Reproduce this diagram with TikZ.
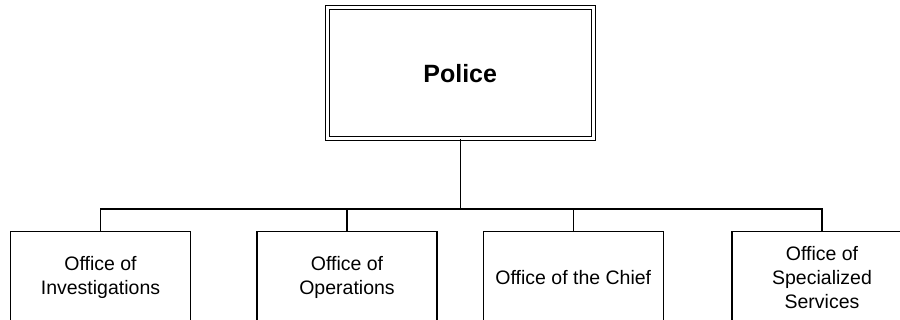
\documentclass[tikz,border=0pt]{standalone}
\usepackage{fontspec}
\setmainfont{Liberation Sans}
\usetikzlibrary{positioning}

\begin{document}
\begin{tikzpicture}[x=1pt, y=-1pt,
    topbox/.style={draw, double, double distance=2.6pt, line width=1.2pt,
      minimum width=266pt, minimum height=131pt, inner sep=0pt,
      font=\fontsize{25}{30}\selectfont\bfseries},
    officebox/.style={draw, line width=1.2pt, minimum width=180pt,
      minimum height=91pt, inner sep=0pt, align=center,
      font=\fontsize{19.5}{24}\selectfont},
    link/.style={line width=1.2pt}]
  \useasboundingbox (0,0) rectangle (900,320);
  \clip (0,0) rectangle (900,320);

  % Draw the head office
  \node[topbox] (police) at (460.2,73.2) {Police};

  % Offices below
  \node[officebox] (invest) at (100.5,277.2) {Office of\\Investigations};
  \node[officebox] (oper) at (347,277.2) {Office of\\Operations};
  \node[officebox] (chief) at (573.3,277.2) {Office of the Chief};
  \node[officebox] (special) at (822,277.2) {Office of\\Specialized\\Services};

  % Connectors
  \coordinate (bus) at (460.2,209);
  \draw[link] (police.south) -- (bus);
  \draw[link] (invest.north) |- (bus);
  \draw[link] (oper.north) |- (bus);
  \draw[link] (chief.north) |- (bus);
  \draw[link] (special.north) |- (bus);
\end{tikzpicture}
\end{document}
